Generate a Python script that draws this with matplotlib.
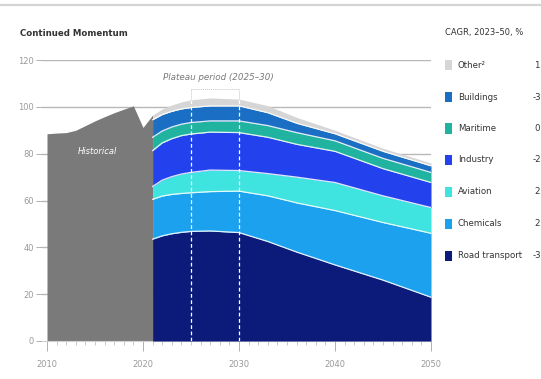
import matplotlib
matplotlib.use("Agg")
import matplotlib.pyplot as plt
from matplotlib.patches import Rectangle
from matplotlib.lines import Line2D
import numpy as np

# Historical demand index
hist_years = [2010, 2011, 2012, 2013, 2014, 2015, 2016, 2017, 2018, 2019, 2020, 2021]
hist_index = [88.5, 88.8, 89.0, 90.0, 92.0, 94.0, 95.8, 97.5, 99.0, 100.4, 91.2, 96.5]

# Projection by sector (stacked, bottom to top)
proj_years = [2021, 2022, 2023, 2024, 2025, 2027, 2030, 2033, 2036, 2040, 2045, 2050]
road_transport = [43.5, 44.9, 45.8, 46.4, 46.8, 47.0, 46.3, 42.5, 38.0, 32.5, 26.0, 18.7]
chemicals = [17.0, 17.0, 16.8, 16.6, 16.5, 16.8, 17.7, 19.5, 21.0, 23.2, 24.6, 27.3]
aviation = [5.5, 6.8, 7.6, 8.3, 8.7, 9.2, 8.8, 9.5, 11.0, 12.0, 11.4, 11.0]
industry = [15.3, 15.9, 16.2, 16.4, 16.4, 16.2, 16.2, 15.5, 14.0, 13.3, 11.6, 10.7]
maritime = [5.7, 5.1, 5.0, 4.9, 4.9, 4.8, 5.0, 5.0, 5.0, 4.5, 4.4, 4.3]
buildings = [7.5, 7.0, 6.7, 6.5, 6.4, 6.4, 6.4, 5.5, 4.0, 3.0, 3.0, 2.8]
other = [2.0, 2.4, 2.7, 3.0, 3.3, 3.4, 2.9, 3.0, 2.5, 1.5, 1.3, 1.2]

sector_names = ["Other²", "Buildings", "Maritime", "Industry", "Aviation", "Chemicals", "Road transport"]
cagr = ["1", "-3", "0", "-2", "2", "2", "-3"]
x_ticks = [2010, 2020, 2030, 2040, 2050]
y_ticks = [0, 20, 40, 60, 80, 100, 120]

colors = {
    "Road transport": "#0c1b7a",
    "Chemicals": "#1ba1ee",
    "Aviation": "#3fe3df",
    "Industry": "#2342ee",
    "Maritime": "#20b4a0",
    "Buildings": "#1a6fc4",
    "Other²": "#d6d6d6",
}
hist_color = "#7a7a7a"
text_gray = "#9a9a9a"
dark_text = "#333333"

W, H = 541, 379
fig = plt.figure(figsize=(W / 100, H / 100), dpi=100)
fig.patch.set_facecolor("white")

def fx(px):
    return px / W

def fy(py):
    return 1 - py / H

ax = fig.add_axes([fx(42), fy(341), fx(431) - fx(42), fy(60) - fy(341)])
ax.set_xlim(2009.48, 2050)
ax.set_ylim(0, 120)

# horizontal gridlines behind everything
for yv in y_ticks[1:]:
    ax.axhline(yv, color="#b8b8b8", lw=1.0, zorder=0)

# historical area
ax.fill_between(hist_years, 0, hist_index, color=hist_color, lw=0, zorder=2)
ax.text(2015.3, 81, "Historical", color="white", fontsize=6, style="italic",
        ha="center", va="center", zorder=5)

# stacked projection
layers = [
    ("Road transport", road_transport),
    ("Chemicals", chemicals),
    ("Aviation", aviation),
    ("Industry", industry),
    ("Maritime", maritime),
    ("Buildings", buildings),
    ("Other²", other),
]
px_years = np.array(proj_years, dtype=float)
base = np.zeros(len(proj_years))
for name, vals in layers:
    top = base + np.array(vals)
    ax.fill_between(px_years, base, top, color=colors[name], lw=0, zorder=3)
    base = top
# white separators between layers
base = np.zeros(len(proj_years))
for name, vals in layers[:-1]:
    base = base + np.array(vals)
    ax.plot(px_years, base, color="white", lw=0.9, alpha=0.85, zorder=4)

stack_top = base + np.array(other)

# plateau markers
for yr in (2025, 2030):
    t = np.interp(yr, px_years, stack_top)
    ax.plot([yr, yr], [0, t], color="white", lw=0.9, ls=(0, (3, 2)), zorder=5)
    ax.plot([yr, yr], [t, 107.7], color="#c8c8c8", lw=0.7, ls=(0, (1, 1)), zorder=5)
ax.plot([2025, 2030], [107.7, 107.7], color="#c8c8c8", lw=0.7, ls=(0, (1, 1)), zorder=5)
ax.text(2027.8, 112.5, "Plateau period (2025–30)", color="#7a7a7a", fontsize=6.3,
        style="italic", ha="center", va="center", zorder=5)

# axes styling
for s in ("top", "right", "left"):
    ax.spines[s].set_visible(False)
ax.spines["bottom"].set_color("#d0d0d0")
ax.spines["bottom"].set_linewidth(0.8)
ax.set_xticks(x_ticks)
ax.set_xticks(range(2010, 2051), minor=True)
ax.set_yticks(y_ticks)
ax.tick_params(axis="x", which="major", length=7, width=0.7, color="#b0b0b0",
               labelsize=6, labelcolor=text_gray, pad=7)
ax.tick_params(axis="x", which="minor", length=3, width=0.6, color="#c0c0c0")
ax.tick_params(axis="y", which="major", length=4, width=0.7, color="#b0b0b0",
               labelsize=6, labelcolor=text_gray, pad=2)

# top rule and titles
fig.add_artist(Line2D([0, 1], [fy(4.5), fy(4.5)], color="#d4d4d4", lw=1.6))
fig.text(fx(20), fy(33), "Continued Momentum", fontsize=6.2, fontweight="bold",
         color=dark_text, ha="left", va="center")
fig.text(fx(445), fy(33), "CAGR, 2023–50, %", fontsize=6, color=dark_text,
         ha="left", va="center")

# legend with growth rates
row_y = [65, 97, 128.5, 160, 192, 224, 256]
for name, val, yy in zip(sector_names, cagr, row_y):
    fig.add_artist(Rectangle((fx(445), fy(yy + 5)), fx(7), fy(yy - 5) - fy(yy + 5),
                             transform=fig.transFigure, facecolor=colors[name],
                             edgecolor="none"))
    fig.text(fx(458), fy(yy), name, fontsize=6.2, color=dark_text, ha="left", va="center")
    fig.text(fx(537), fy(yy), val, fontsize=6.2, color=dark_text, ha="center", va="center")

fig.savefig("out.png", dpi=100)
